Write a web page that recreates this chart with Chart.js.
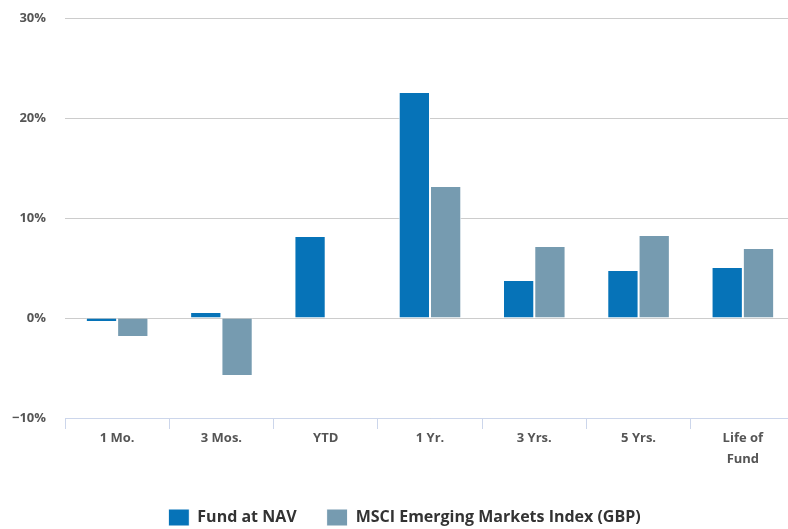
<!DOCTYPE html>
<html>
<head>
<meta charset="utf-8">
<script src="https://cdn.jsdelivr.net/npm/chart.js@4/dist/chart.umd.min.js"></script>
<style>
  html, body { margin: 0; padding: 0; background: #fff; overflow: hidden; }
  #wrap { width: 795px; height: 529px; }
</style>
</head>
<body>
<div id="wrap"><canvas id="c"></canvas></div>
<script>
// 期间标签
const periods = ['1 Mo.', '3 Mos.', 'YTD', '1 Yr.', '3 Yrs.', '5 Yrs.', ['Life of', 'Fund']];
// 基金净值回报 (%)
const fundNav = [-0.4, 0.6, 8.2, 22.6, 3.8, 4.8, 5.1];
// 指数回报 (%)
const msciIndex = [-1.9, -5.8, 0.0, 13.2, 7.2, 8.3, 7.0];
const yTicks = [-10, 0, 10, 20, 30];

// 固定图例高度，并稍微右移
const legendTweak = {
    id: 'legendTweak',
    beforeInit(chart) {
        const fit = chart.legend.fit;
        chart.legend.fit = function () {
            fit.bind(chart.legend)();
            this.height = 50;
        };
    },
    afterLayout(chart) {
        chart.legend.left += 7;
        chart.legend.right += 7;
    }
};

const ctx = document.getElementById('c').getContext('2d');
new Chart(ctx, {
    type: 'bar',
    data: {
        labels: periods,
        datasets: [
            {
                label: 'Fund at NAV',
                data: fundNav,
                backgroundColor: '#0673b8',
                borderColor: '#ffffff',
                borderWidth: 1
            },
            {
                label: 'MSCI Emerging Markets Index (GBP)',
                data: msciIndex,
                backgroundColor: '#769bb0',
                borderColor: '#ffffff',
                borderWidth: 1
            }
        ]
    },
    plugins: [legendTweak],
    options: {
        responsive: true,
        maintainAspectRatio: false,
        animation: false,
        categoryPercentage: 0.6,
        barPercentage: 1,
        layout: { padding: { top: 18, right: 0, left: 0, bottom: 0 } },
        plugins: {
            legend: {
                position: 'bottom',
                labels: {
                    boxWidth: 21,
                    boxHeight: 17,
                    padding: 30,
                    color: '#333',
                    font: { family: 'Open Sans', size: 16, weight: 'bold' }
                }
            },
            tooltip: { enabled: false }
        },
        scales: {
            x: {
                afterFit: (scale) => { scale.height = 61; },
                grid: {
                    display: true,
                    drawOnChartArea: false,
                    drawTicks: true,
                    tickLength: 11,
                    color: '#ccd6eb'
                },
                border: { color: '#ccd6eb' },
                ticks: {
                    color: '#555',
                    padding: -1,
                    maxRotation: 0,
                    font: { family: 'Open Sans', size: 13, weight: 'bold', lineHeight: '21px' }
                }
            },
            y: {
                min: -10,
                max: 30,
                afterBuildTicks: (scale) => { scale.ticks = yTicks.map(v => ({ value: v })); },
                afterFit: (scale) => {
                    scale.width = 65;
                    scale.paddingTop = 0;
                    scale.paddingBottom = 0;
                },
                grid: { color: '#cccccc', drawTicks: false },
                border: { display: false },
                ticks: {
                    color: '#555',
                    padding: 19,
                    font: { family: 'Open Sans', size: 13, weight: 'bold' },
                    callback: (v) => (v < 0 ? '\u2212' + Math.abs(v) : v) + '%'
                }
            }
        }
    }
});
</script>
</body>
</html>
